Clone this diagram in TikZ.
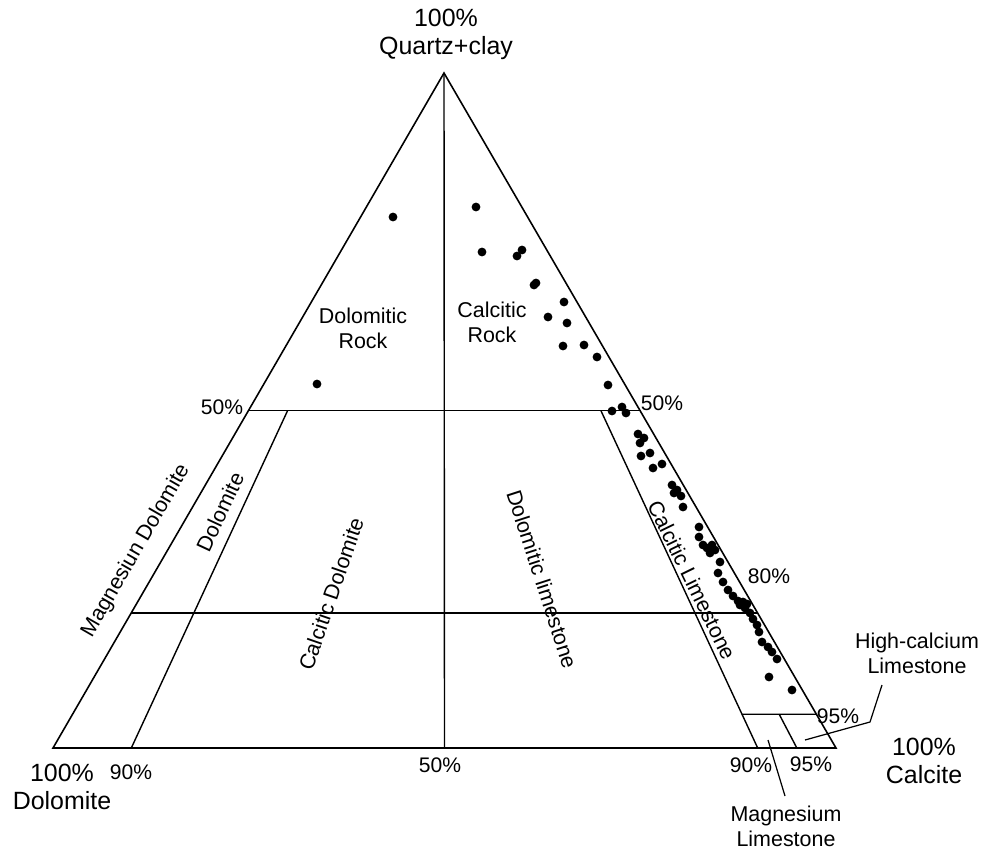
\documentclass[tikz,border=0pt]{standalone}
\usepackage{fontspec}
\setmainfont{Liberation Sans}
\usepackage{tikz}
\usetikzlibrary{calc}

\tikzset{
  edge/.style={line width=0.9pt, line join=miter},
  divide/.style={line width=0.8pt},
  lead/.style={line width=0.7pt},
  lbl/.style={font=\fontsize{12.2}{14.2}\selectfont, align=center, inner sep=0pt},
  pct/.style={font=\fontsize{12}{14}\selectfont, inner sep=0pt},
  big/.style={font=\fontsize{14.2}{16}\selectfont, align=center, inner sep=0pt}
}

\begin{document}
\begin{tikzpicture}[x=0.02cm, y=-0.02cm]
  \useasboundingbox (0,0) rectangle (991,849);

  % corners of the ternary plot
  \coordinate (D) at (53,748);
  \coordinate (C) at (836,748);
  \coordinate (Q) at (444,73);
  \coordinate (B10) at ($(D)!0.1!(C)$);
  \coordinate (B50) at ($(D)!0.5!(C)$);
  \coordinate (B90) at ($(D)!0.9!(C)$);
  \coordinate (B95) at ($(D)!0.95!(C)$);

  \draw[edge] (D) -- (C) -- (Q) -- cycle;

  % field boundaries
  \draw[divide] (Q) -- (B50);
  \draw[divide] ($(D)!0.5!(Q)$) -- ($(C)!0.5!(Q)$);
  \draw[divide] ($(D)!0.2!(Q)$) -- ($(C)!0.2!(Q)$);
  \draw[divide] (B10) -- ($(B10)!0.5!(Q)$);
  \draw[divide] (B90) -- ($(B90)!0.5!(Q)$);
  \draw[divide] ($(B90)!0.05!(Q)$) -- ($(C)!0.05!(Q)$);
  \draw[divide] (B95) -- ($(B95)!0.05!(Q)$);

  % samples
  \foreach \x/\y in {393/217, 317/384, 476/207, 482/252, 517/256, 522/250,
    534/285, 536/283, 564/302, 548/317, 567/323, 563/346, 584/345, 597/357,
    608/385, 612/411, 622/407, 626/413, 638/434, 644/438, 640/443, 641/456,
    650/453, 653/468, 662/464, 672/485, 677/490, 674/493, 681/496, 683/507,
    699/527, 699/537, 703/545, 707/548, 710/553, 712/545, 715/550, 720/562,
    718/573, 723/582, 728/590, 733/596, 738/601, 743/602, 747/604, 740/605,
    745/608, 750/613, 753/619, 757/625, 759/632, 762/642, 768/647, 772/652,
    777/659, 769/677, 792/690}
    \fill (\x,\y) circle[radius=0.088cm];

  % corner labels
  \node[big] (quartz) at (446,34) {100\%\\Quartz+clay};
  \node[big] (dolo) at (62,787) {100\%\\Dolomite};
  \node[big] (calc) at (924,761) {100\%\\Calcite};

  % percentages
  \node[pct] at (131,772) {90\%};
  \node[pct] at (440,765) {50\%};
  \node[pct] at (751,765) {90\%};
  \node[pct] at (811,764) {95\%};
  \node[pct] at (222,407) {50\%};
  \node[pct] at (662,403) {50\%};
  \node[pct] at (769,576) {80\%};
  \node[pct] at (838,716) {95\%};

  % field names
  \node[lbl] at (363,328) {Dolomitic\\Rock};
  \node[lbl] at (492,322) {Calcitic\\Rock};
  \node[lbl, rotate=60] at (136,551) {Magnesiun Dolomite};
  \node[lbl, rotate=65] at (220,512) {Dolomite};
  \node[lbl, rotate=71] at (331,594) {Calcitic Dolomite};
  \node[lbl, rotate=-72] at (542,579) {Dolomitic limestone};
  \node[lbl, rotate=-64] at (692,580) {Calcitic Limestone};

  % small fields with leaders
  \node[lbl] (hicalc) at (917,653) {High-calcium\\Limestone};
  \node[lbl] (mglime) at (786,826) {Magnesium\\Limestone};
  \coordinate (hc) at (805,740);
  \coordinate (hcend) at (882,685);
  \coordinate (mg) at (768,740);
  \coordinate (mgend) at (785,796);
  \draw[lead] (hc) -- (870,722) -- (hcend);
  \draw[lead] (mg) -- (mgend);
\end{tikzpicture}
\end{document}
